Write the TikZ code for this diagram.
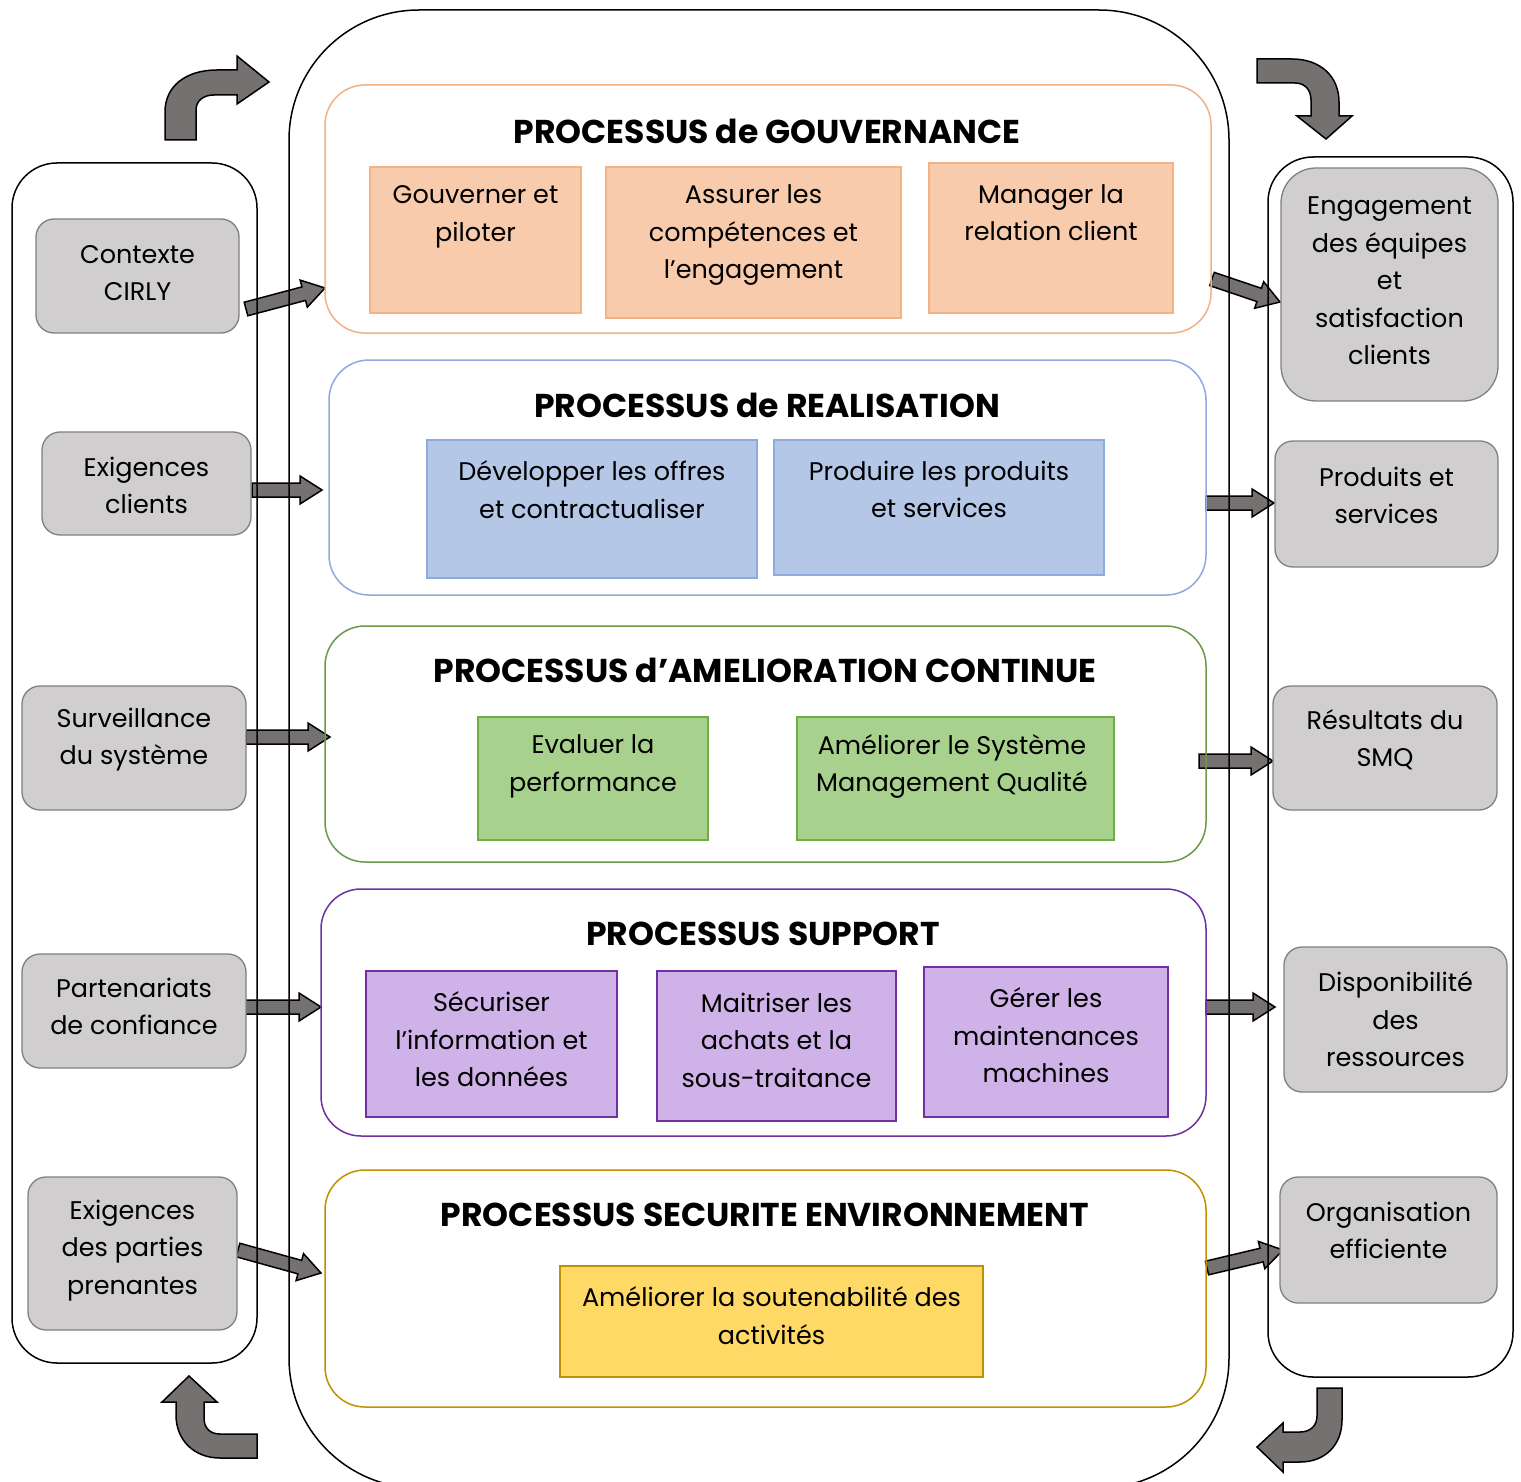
\documentclass[tikz,border=0pt]{standalone}
\usepackage{fontspec}
\setmainfont{Poppins}
\usetikzlibrary{calc}
\definecolor{orB}{HTML}{F4B183}
\definecolor{orF}{HTML}{F8CBAD}
\definecolor{blB}{HTML}{8FAADC}
\definecolor{blF}{HTML}{B4C7E7}
\definecolor{grB}{HTML}{6A9A48}
\definecolor{grS}{HTML}{70AD47}
\definecolor{grF}{HTML}{A9D18E}
\definecolor{puB}{HTML}{7030A0}
\definecolor{puF}{HTML}{CFB2E8}
\definecolor{goB}{HTML}{BF9000}
\definecolor{goF}{HTML}{FFD966}
\definecolor{itB}{HTML}{808080}
\definecolor{itF}{HTML}{D0CECE}
\definecolor{arF}{HTML}{767171}
\tikzset{
  proc/.style={draw, rounded corners=40, line width=1.5pt, rectangle, inner sep=0},
  subbox/.style={draw, line width=1.5pt, rectangle, inner sep=0},
  item/.style={draw=itB, fill=itF, rounded corners=18, line width=1.3pt, rectangle, inner sep=0},
  column/.style={draw=black, rounded corners=45, line width=1.5pt, rectangle, inner sep=0},
  txt/.style={align=center, font=\fontsize{25.5}{37.5}\selectfont, inner sep=0},
  ttl/.style={font=\fontsize{33}{38}\selectfont\bfseries, inner sep=0},
  barrow/.style={draw=black, fill=arF, line width=1.5pt, line join=miter},
}
\newcommand\blockarr[2]{%
  \coordinate (ba-h) at ($(#2)!22pt!(#1)$);
  \path[barrow] ($(#1)!7pt!90:(#2)$) -- ($(ba-h)!7pt!90:(#2)$) -- ($(ba-h)!14pt!90:(#2)$) -- (#2)
    -- ($(ba-h)!14pt!-90:(#2)$) -- ($(ba-h)!7pt!-90:(#2)$) -- ($(#1)!7pt!-90:(#2)$) -- cycle;
}
\begin{document}
\begin{tikzpicture}[x=1pt, y=-1pt]
\useasboundingbox (0,0) rectangle (1521,1482);
\fill[white] (0,0) rectangle (1521,1482);

% ---- block arrows (under the outlines)
\coordinate (a1s) at (246,309);  \coordinate (a1t) at (325,288);
\coordinate (a2s) at (252,490);  \coordinate (a2t) at (322,490);
\coordinate (a3s) at (246,737);  \coordinate (a3t) at (330,737);
\coordinate (a4s) at (237,1007); \coordinate (a4t) at (321,1007);
\coordinate (a5s) at (238,1250); \coordinate (a5t) at (321,1273);
\coordinate (b1s) at (1212,279); \coordinate (b1t) at (1280,302);
\coordinate (b2s) at (1206,503); \coordinate (b2t) at (1274,503);
\coordinate (b3s) at (1199,761); \coordinate (b3t) at (1273,761);
\coordinate (b4s) at (1206,1007);\coordinate (b4t) at (1275,1007);
\coordinate (b5s) at (1207,1268);\coordinate (b5t) at (1283,1250);
\blockarr{a1s}{a1t}
\blockarr{a2s}{a2t}
\blockarr{a3s}{a3t}
\blockarr{a4s}{a4t}
\blockarr{a5s}{a5t}
\blockarr{b1s}{b1t}
\blockarr{b2s}{b2t}
\blockarr{b3s}{b3t}
\blockarr{b4s}{b4t}
\blockarr{b5s}{b5t}

% ---- bent corner arrows
\path[barrow] (165,140) -- (165,112) .. controls (165,86) and (186,70) .. (217,70) -- (237,70) -- (237,56)
  -- (269,82) -- (237,104) -- (237,95) -- (214,95) .. controls (203,95) and (196,101) .. (196,110) -- (196,140) -- cycle;
\path[barrow] (1257,59) -- (1292,59) .. controls (1320,59) and (1339,76) .. (1339,102) -- (1339,116) -- (1352,116)
  -- (1326,139) -- (1297,116) -- (1311,116) -- (1311,100) .. controls (1311,90) and (1305,83) .. (1295,83) -- (1257,83) -- cycle;
\path[barrow] (257,1458) -- (220,1458) .. controls (194,1458) and (176,1440) .. (176,1415) -- (176,1402) -- (162,1402)
  -- (189,1376) -- (217,1402) -- (204,1402) -- (204,1418) .. controls (204,1428) and (210,1434) .. (220,1434) -- (257,1434) -- cycle;
\path[barrow] (1317,1388) -- (1342,1388) -- (1342,1420) .. controls (1342,1445) and (1325,1462) .. (1300,1462) -- (1283,1462)
  -- (1283,1472) -- (1257,1447) -- (1283,1423) -- (1283,1432) -- (1300,1432) .. controls (1310,1432) and (1317,1426) .. (1317,1416) -- cycle;

% ---- outer frames
\node[draw, rounded corners=130, line width=1.5pt, rectangle, inner sep=0, minimum width=940, minimum height=1478] (outer) at (759,749) {};
\node[column, minimum width=245, minimum height=1200] (leftcol) at (134.5,763) {};
\node[column, minimum width=245, minimum height=1220] (rightcol) at (1390.5,767) {};

% ---- process boxes
\node[proc, draw=orB, minimum width=886, minimum height=248] (p1) at (768,209) {};
\node[proc, draw=blB, minimum width=877, minimum height=235] (p2) at (767.5,477.5) {};
\node[proc, draw=grB, minimum width=881, minimum height=236] (p3) at (765.5,744) {};
\node[proc, draw=puB, minimum width=885, minimum height=247] (p4) at (763.5,1012.5) {};
\node[proc, draw=goB, minimum width=881, minimum height=237] (p5) at (765.5,1288.5) {};

\node[ttl] (t1) at (767,131) {PROCESSUS de GOUVERNANCE};
\node[ttl] (t2) at (767,405) {PROCESSUS de REALISATION};
\node[ttl] (t3) at (765,670) {PROCESSUS d’AMELIORATION CONTINUE};
\node[ttl] (t4) at (763,934) {PROCESSUS SUPPORT};
\node[ttl] (t5) at (765,1215) {PROCESSUS SECURITE ENVIRONNEMENT};

% ---- sub boxes
\node[subbox, draw=orB, fill=orF, minimum width=211, minimum height=146] (g1) at (475.5,240) {};
\node[txt] (g1t) at (475.5,217) {Gouverner et\\piloter};
\node[subbox, draw=orB, fill=orF, minimum width=295, minimum height=151] (g2) at (753.5,242.5) {};
\node[txt] (g2t) at (753.5,235.5) {Assurer les\\compétences et\\l’engagement};
\node[subbox, draw=orB, fill=orF, minimum width=244, minimum height=150] (g3) at (1051,238) {};
\node[txt] (g3t) at (1051,212.5) {Manager la\\relation client};

\node[subbox, draw=blB, fill=blF, minimum width=330, minimum height=138] (r1) at (592,509) {};
\node[txt] (r1t) at (592,489.5) {Développer les offres\\et contractualiser};
\node[subbox, draw=blB, fill=blF, minimum width=330, minimum height=135] (r2) at (939,507.5) {};
\node[txt] (r2t) at (939,489.5) {Produire les produits\\et services};

\node[subbox, draw=grS, fill=grF, minimum width=230, minimum height=123] (c1) at (593,778.5) {};
\node[txt] (c1t) at (593,766.5) {Evaluer la\\performance};
\node[subbox, draw=grS, fill=grF, minimum width=317, minimum height=123] (c2) at (955.5,778.5) {};
\node[txt] (c2t) at (952,766.5) {Améliorer le Système\\Management Qualité};

\node[subbox, draw=puB, fill=puF, minimum width=251, minimum height=146] (s1) at (491.5,1044) {};
\node[txt] (s1t) at (491.5,1039.5) {Sécuriser\\l’information et\\les données};
\node[subbox, draw=puB, fill=puF, minimum width=239, minimum height=150] (s2) at (776.5,1046) {};
\node[txt] (s2t) at (776.5,1040) {Maitriser les\\achats et la\\sous-traitance};
\node[subbox, draw=puB, fill=puF, minimum width=244, minimum height=150] (s3) at (1046,1042) {};
\node[txt] (s3t) at (1046,1035.5) {Gérer les\\maintenances\\machines};

\node[subbox, draw=goB, fill=goF, minimum width=423, minimum height=111] (e1) at (771.5,1321.5) {};
\node[txt] (e1t) at (771.5,1315.5) {Améliorer la soutenabilité des\\activités};

% ---- left items
\node[item, minimum width=203, minimum height=114] (l1) at (137.5,276) {};
\node[txt] (l1t) at (137.5,273) {Contexte\\CIRLY};
\node[item, minimum width=209, minimum height=103] (l2) at (146.5,483.5) {};
\node[txt] (l2t) at (146.5,485.5) {Exigences\\clients};
\node[item, minimum width=224, minimum height=124] (l3) at (134,748) {};
\node[txt] (l3t) at (134,739.5) {Surveillance\\du système};
\node[item, minimum width=224, minimum height=114] (l4) at (134,1011) {};
\node[txt] (l4t) at (134,1006.5) {Partenariats\\de confiance};
\node[item, minimum width=209, minimum height=153] (l5) at (132.5,1253.5) {};
\node[txt] (l5t) at (132.5,1250.5) {Exigences\\des parties\\prenantes};

% ---- right items
\node[item, rounded corners=35, minimum width=217, minimum height=233] (q1) at (1389.5,284.5) {};
\node[txt] (q1t) at (1389.5,281) {Engagement\\des équipes\\et\\satisfaction\\clients};
\node[item, minimum width=223, minimum height=126] (q2) at (1386.5,504) {};
\node[txt] (q2t) at (1386.5,495.5) {Produits et\\services};
\node[item, minimum width=224, minimum height=124] (q3) at (1385,748) {};
\node[txt] (q3t) at (1385,739.5) {Résultats du\\SMQ};
\node[item, minimum width=223, minimum height=145] (q4) at (1395.5,1019.5) {};
\node[txt] (q4t) at (1395.5,1019.5) {Disponibilité\\des\\ressources};
\node[item, minimum width=217, minimum height=126] (q5) at (1388.5,1240) {};
\node[txt] (q5t) at (1388.5,1230.5) {Organisation\\efficiente};
\end{tikzpicture}
\end{document}
